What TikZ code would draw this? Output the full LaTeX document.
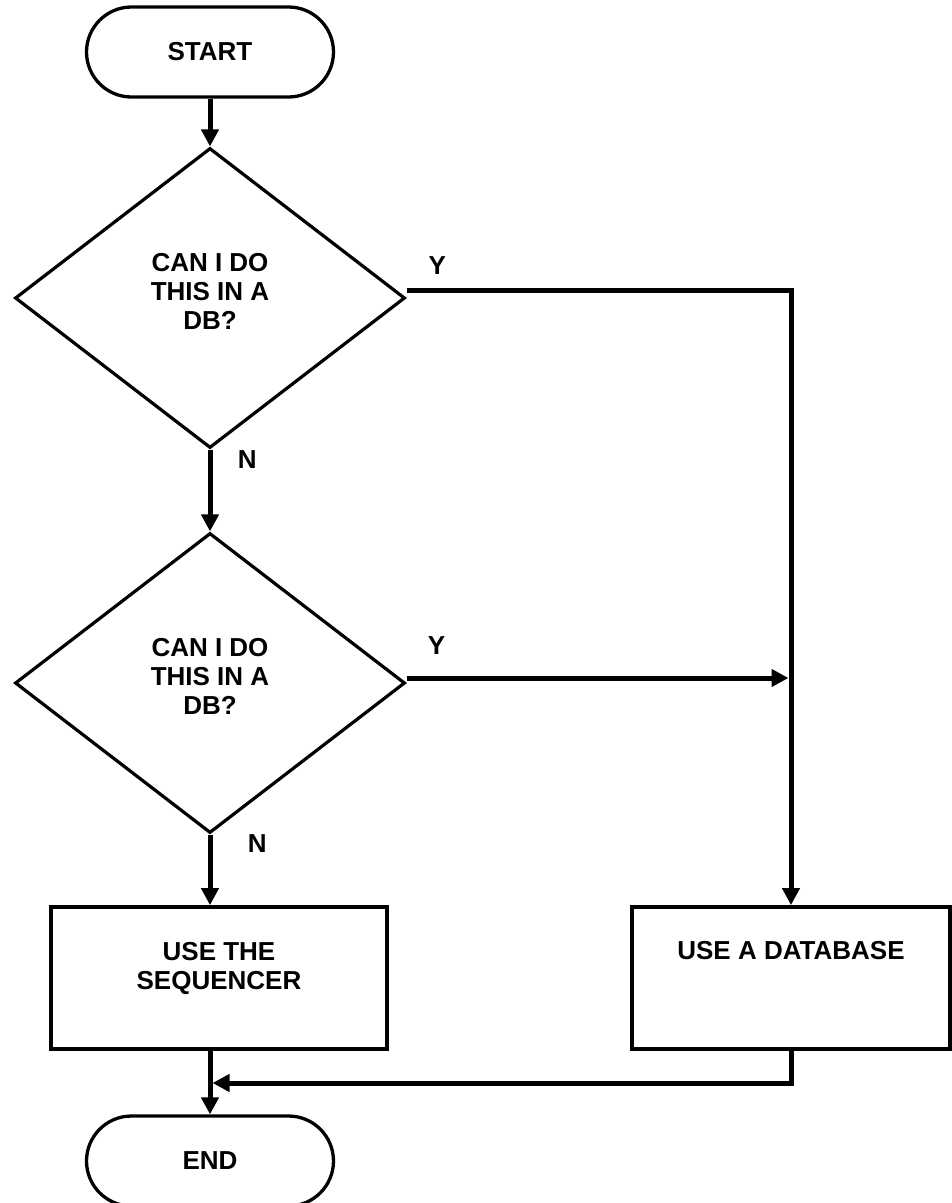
\documentclass[tikz,border=0pt]{standalone}
\usepackage{fontspec}
\setmainfont{Liberation Sans}
\usetikzlibrary{
    shapes.geometric,
    arrows.meta,
    positioning
}

\begin{document}
\begin{tikzpicture}[x=1pt, y=-1pt,
    font=\fontsize{26}{29}\selectfont\bfseries,
    terminal/.style={draw, line width=3.3pt, rectangle, rounded corners=45pt, minimum width=247pt, minimum height=90pt},
    decision/.style={draw, line width=3.2pt, diamond, aspect=1.3, minimum width=390pt, minimum height=300pt, align=center, inner sep=0pt, text height=76.6pt, text depth=14pt},
    process/.style={draw, line width=3.8pt, rectangle, minimum height=142pt, align=center},
    conn/.style={line width=5pt, -{Triangle[length=17pt, width=17pt]}},
    wire/.style={line width=5pt}
]
    \useasboundingbox (0,0) rectangle (952,1203);

    \node[terminal] (start) at (210, 52) {START};
    \node[decision] (q1) at (210, 298) {CAN I DO\\THIS IN A\\DB?};
    \node[decision] (q2) at (210, 683) {CAN I DO\\THIS IN A\\DB?};
    \node[process, minimum width=336pt, text height=48pt, text depth=25pt] (seq) at (219, 978) {USE THE\\SEQUENCER};
    \node[process, minimum width=318pt, text height=18.6pt, text depth=56pt] (db) at (791, 978) {USE A DATABASE};
    \node[terminal] (end) at (210, 1161) {END};
    \coordinate (join) at (210, 1083);

    \draw
    (start) edge[conn] (q1)
    (q1) edge[conn] node[pos=0.12, right=22pt] {N} (q2)
    (q2.south) edge[conn] node[pos=0.12, right=32pt] {N} (q2.south |- seq.north)
    (q2.south |- seq.south) edge[conn] (end)
    ([yshift=5pt]q2.east) edge[conn, shorten >=2.5pt] node[pos=0.078, above=18pt] {Y} ([yshift=5pt]q2.east -| db.north);

    \draw[conn] ([yshift=8pt]q1.east) -| node[pos=0.04, above=10pt] {Y} (db.north);
    \draw[conn, shorten >=2.5pt] (db.south) |- (join);
\end{tikzpicture}
\end{document}
